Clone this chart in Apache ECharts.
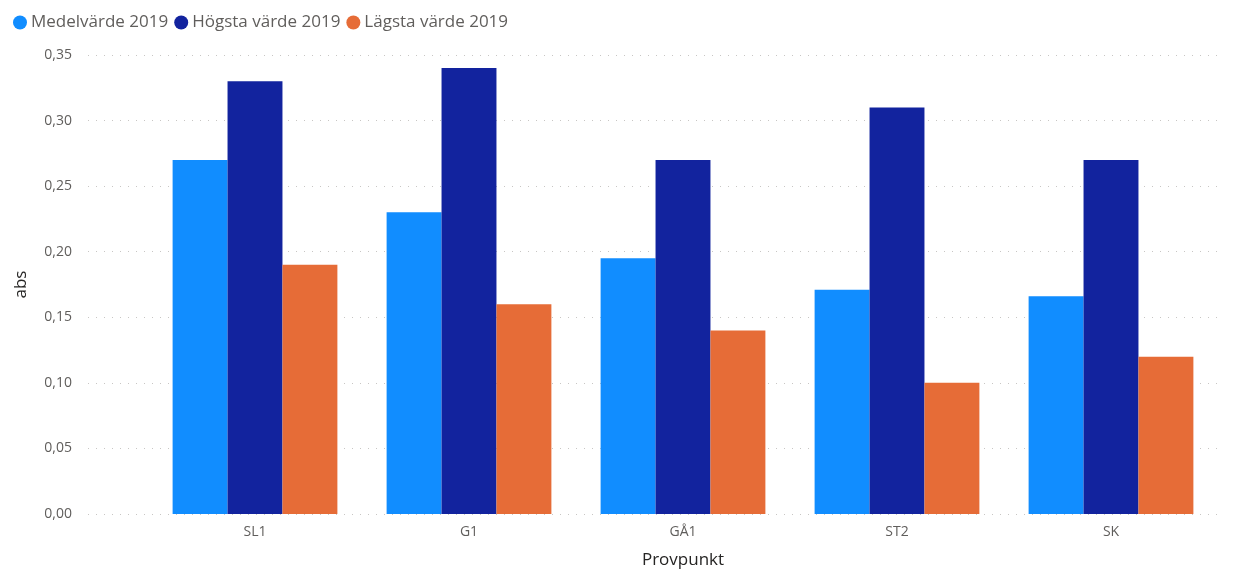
<!DOCTYPE html>
<html lang="sv">
<head>
    <meta charset="UTF-8">
    <title>Provpunkt abs 2019</title>
    <script src="https://cdn.jsdelivr.net/npm/echarts@6/dist/echarts.min.js"></script>
    <style>
        html, body { margin: 0; padding: 0; background: #fff; }
        #main { width: 1244px; height: 570px; }
    </style>
</head>
<body>
<div id="main"></div>
<script type="text/javascript">
    // data
    var categories = ['SL1', 'G1', 'GÅ1', 'ST2', 'SK'];
    var medel = [0.27, 0.23, 0.195, 0.171, 0.166];
    var hogsta = [0.33, 0.34, 0.27, 0.31, 0.27];
    var lagsta = [0.19, 0.16, 0.14, 0.10, 0.12];
    var seriesNames = ['Medelvärde 2019', 'Högsta värde 2019', 'Lägsta värde 2019'];
    var colors = ['#118DFF', '#12239E', '#E66C37'];

    var font = '"Open Sans", "Noto Sans", sans-serif';
    var fmt = function (v) { return v.toFixed(2).replace('.', ','); };

    var chart = echarts.init(document.getElementById('main'));
    var option = {
        animation: false,
        color: colors,
        textStyle: { fontFamily: font },
        legend: {
            left: 8,
            top: 9,
            icon: 'circle',
            itemWidth: 14,
            itemHeight: 14,
            itemGap: 6,
            textStyle: { color: '#605E5C', fontSize: 17, fontFamily: font, padding: [0, 0, 0, -1] },
            data: seriesNames
        },
        grid: [
            // outer grid: y labels + dotted gridlines
            { left: 88, right: 22, top: 55, bottom: 56, outerBoundsMode: 'none' },
            // inner grid: the bars
            { left: 148, right: 26, top: 55, bottom: 56, outerBoundsMode: 'none' }
        ],
        xAxis: [
            { gridIndex: 0, type: 'value', show: false, min: 0, max: 1 },
            {
                gridIndex: 1,
                type: 'category',
                data: categories,
                axisLine: { show: false },
                axisTick: { show: false },
                axisLabel: { color: '#605E5C', fontSize: 14, margin: 11 },
                name: 'Provpunkt',
                nameLocation: 'middle',
                nameGap: 38,
                nameTextStyle: { color: '#252423', fontSize: 17 }
            }
        ],
        yAxis: [
            {
                gridIndex: 0,
                type: 'value',
                min: 0,
                max: 0.35,
                interval: 0.05,
                axisLine: { show: false },
                axisTick: { show: false },
                axisLabel: { color: '#605E5C', fontSize: 14, margin: 16, formatter: fmt },
                splitLine: { lineStyle: { color: '#C8C6C4', type: [1, 7], width: 1 } },
                name: 'abs',
                nameLocation: 'middle',
                nameRotate: 90,
                nameGap: 58,
                nameTextStyle: { color: '#252423', fontSize: 17 }
            },
            {
                gridIndex: 1,
                type: 'value',
                min: 0,
                max: 0.35,
                interval: 0.05,
                show: false,
                splitLine: { show: false }
            }
        ],
        series: [
            { name: seriesNames[0], type: 'bar', xAxisIndex: 1, yAxisIndex: 1, data: medel, barGap: '0%', barCategoryGap: '23%' },
            { name: seriesNames[1], type: 'bar', xAxisIndex: 1, yAxisIndex: 1, data: hogsta, barGap: '0%', barCategoryGap: '23%' },
            { name: seriesNames[2], type: 'bar', xAxisIndex: 1, yAxisIndex: 1, data: lagsta, barGap: '0%', barCategoryGap: '23%' }
        ]
    };
    chart.setOption(option);
</script>
</body>
</html>
